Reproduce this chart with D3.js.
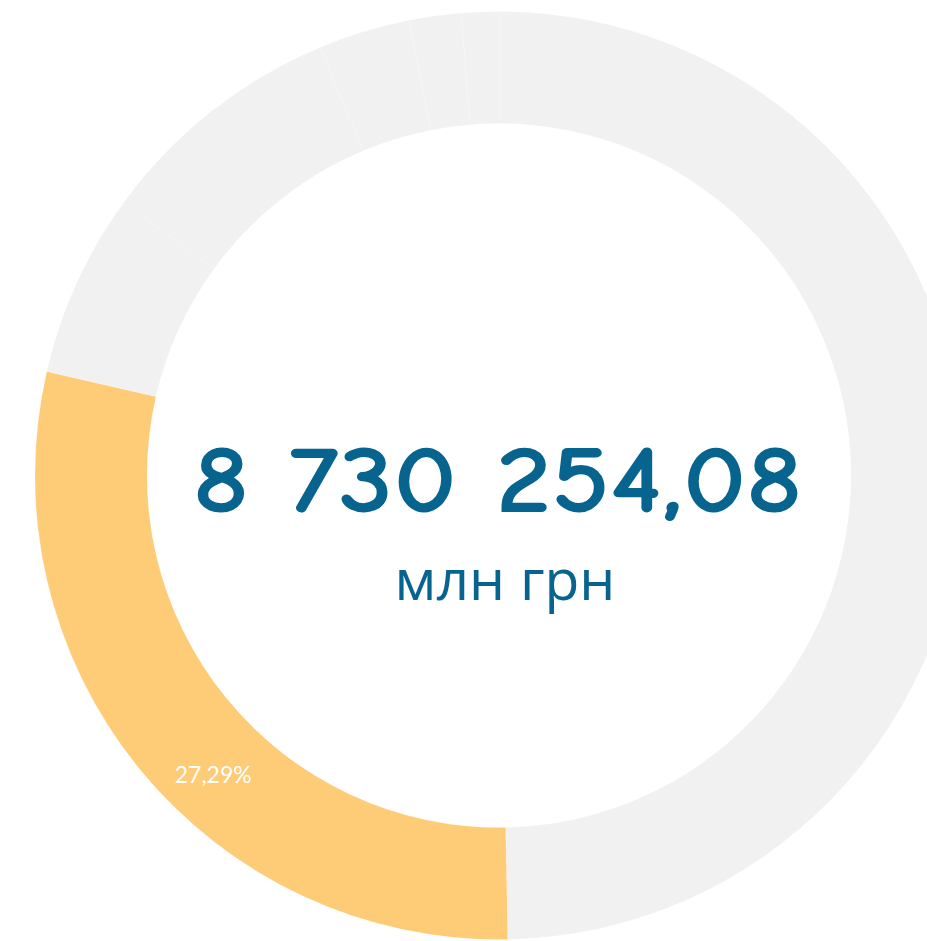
<!DOCTYPE html>
<html>
<head>
<meta charset="utf-8">
<script src="https://cdn.jsdelivr.net/npm/d3@7"></script>
<style>
  html, body { margin: 0; padding: 0; background: #fff; }
  svg { display: block; }
</style>
</head>
<body>
<div id="chart"></div>
<script>
// slice shares (percent of the ring), clockwise from 12 o'clock
const sliceNames = ["s1", "s2", "s3", "s4", "s5", "s6", "s7"];
const sliceValues = [49.7, 28.9, 6.4, 8.7, 3.2, 1.8, 1.3];
const highlighted = "s2";
const highlightLabel = "27,29%";
const totalText = "8 730 254,08";
const unitText = "млн грн";

document.addEventListener("DOMContentLoaded", function() {
    const width = 927;
    const height = 941;
    const cx = 499, cy = 475.5;
    const outerR = 464;
    const innerR = 352;

    const data = sliceNames.map((n, i) => ({ name: n, value: sliceValues[i] }));

    const svg = d3.select("#chart")
        .append("svg")
        .attr("width", width)
        .attr("height", height);

    const g = svg.append("g")
        .attr("transform", `translate(${cx},${cy})`);

    const pie = d3.pie()
        .value(d => d.value)
        .sort(null);

    const arc = d3.arc()
        .innerRadius(innerR)
        .outerRadius(outerR);

    const arcs = pie(data);

    g.selectAll("path")
        .data(arcs)
        .enter().append("path")
        .attr("d", arc)
        .attr("fill", d => d.data.name === highlighted ? "#fecb76" : "#f1f1f1")
        .attr("stroke", "#ffffff")
        .attr("stroke-opacity", 0.3)
        .attr("stroke-width", 0.5);

    // percentage label inside the highlighted slice
    const labelArc = d3.arc()
        .innerRadius(innerR + 2)
        .outerRadius(outerR + 10);
    const hl = arcs.find(d => d.data.name === highlighted);
    const a = hl.startAngle + 0.43 * (hl.endAngle - hl.startAngle);
    const pos = labelArc.centroid({ startAngle: a, endAngle: a });

    g.append("text")
        .attr("x", pos[0])
        .attr("y", pos[1])
        .attr("text-anchor", "middle")
        .attr("dy", "0.35em")
        .style("font-family", "Lato, 'Open Sans', sans-serif")
        .style("font-size", "23px")
        .style("fill", "#ffffff")
        .text(highlightLabel);

    // centre texts
    const big = svg.append("text")
        .attr("x", 498)
        .attr("y", 512)
        .attr("text-anchor", "middle")
        .style("font-family", "'Comic Sans MS', 'Comic Neue', Lato, sans-serif")
        .style("font-weight", "bold")
        .style("font-size", "98px")
        .style("fill", "#06648f")
        .text(totalText);
    const w = big.node().getComputedTextLength();
    if (Math.abs(w - 610) > 4) {
        big.attr("textLength", 610).attr("lengthAdjust", "spacingAndGlyphs");
    }

    svg.append("text")
        .attr("x", 505)
        .attr("y", 600)
        .attr("text-anchor", "middle")
        .style("font-family", "'Open Sans', Lato, sans-serif")
        .style("font-size", "57px")
        .style("fill", "#06648f")
        .text(unitText);
});
</script>
</body>
</html>
